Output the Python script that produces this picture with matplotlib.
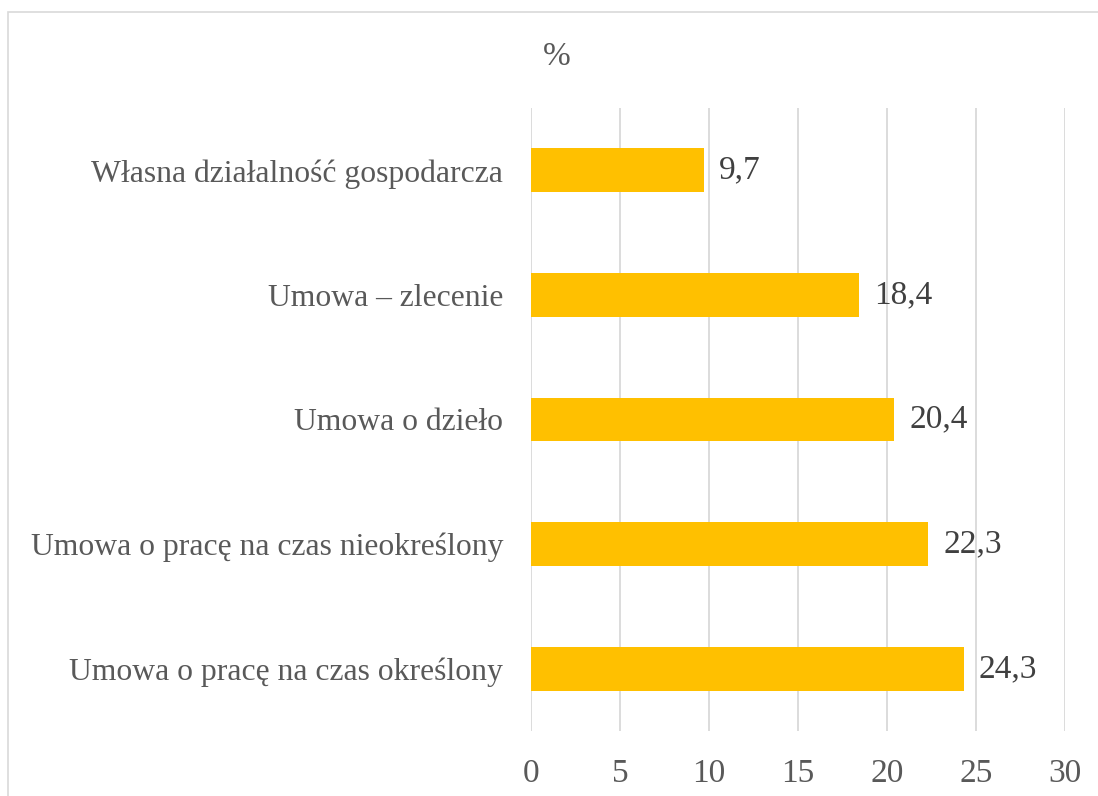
import matplotlib.pyplot as plt
from matplotlib.patches import Rectangle

# Dane
categories = ['Umowa o pracę na czas określony',
              'Umowa o pracę na czas nieokreślony',
              'Umowa o dzieło',
              'Umowa – zlecenie',
              'Własna działalność gospodarcza']
values = [24.3, 22.3, 20.4, 18.4, 9.7]
value_labels = ['24,3', '22,3', '20,4', '18,4', '9,7']
xticks = [0, 5, 10, 15, 20, 25, 30]

W, H = 1098, 796
fig = plt.figure(figsize=(W / 100, H / 100), dpi=100)
plt.rcParams['font.family'] = ['Liberation Serif', 'DejaVu Serif']

# ramka wykresu
fig.patches.append(Rectangle((8 / W, -0.1), 1.2, 1.1 - 12 / H, transform=fig.transFigure,
                             fill=False, edgecolor='#D9D9D9', linewidth=1.2))

ax = fig.add_axes([531 / W, 1 - 731 / H, (1065 - 531) / W, (731 - 108) / H])
ax.barh(range(len(categories)), values, height=0.35, color='#FFC000', zorder=3)
ax.set_xlim(0, 30)
ax.set_ylim(-0.5, len(categories) - 0.5)
ax.set_xticks(xticks)
ax.set_xticklabels([str(t) for t in xticks])
ax.set_yticks(range(len(categories)))
ax.set_yticklabels(categories)
ax.grid(axis='x', color='#D9D9D9', linewidth=1.3, zorder=0)
for s in ax.spines.values():
    s.set_visible(False)
ax.tick_params(axis='x', length=0, pad=20, labelsize=24, labelcolor='#595959')
ax.tick_params(axis='y', length=0, pad=20, labelsize=22.8, labelcolor='#595959')

for i, (v, lab) in enumerate(zip(values, value_labels)):
    ax.text(v + 0.85, i, lab, va='center', ha='left', fontsize=24, color='#404040')

fig.text(557 / W, 1 - 57 / H, '%', ha='center', va='center', fontsize=24, color='#595959')

fig.savefig('out.png', dpi=100)
